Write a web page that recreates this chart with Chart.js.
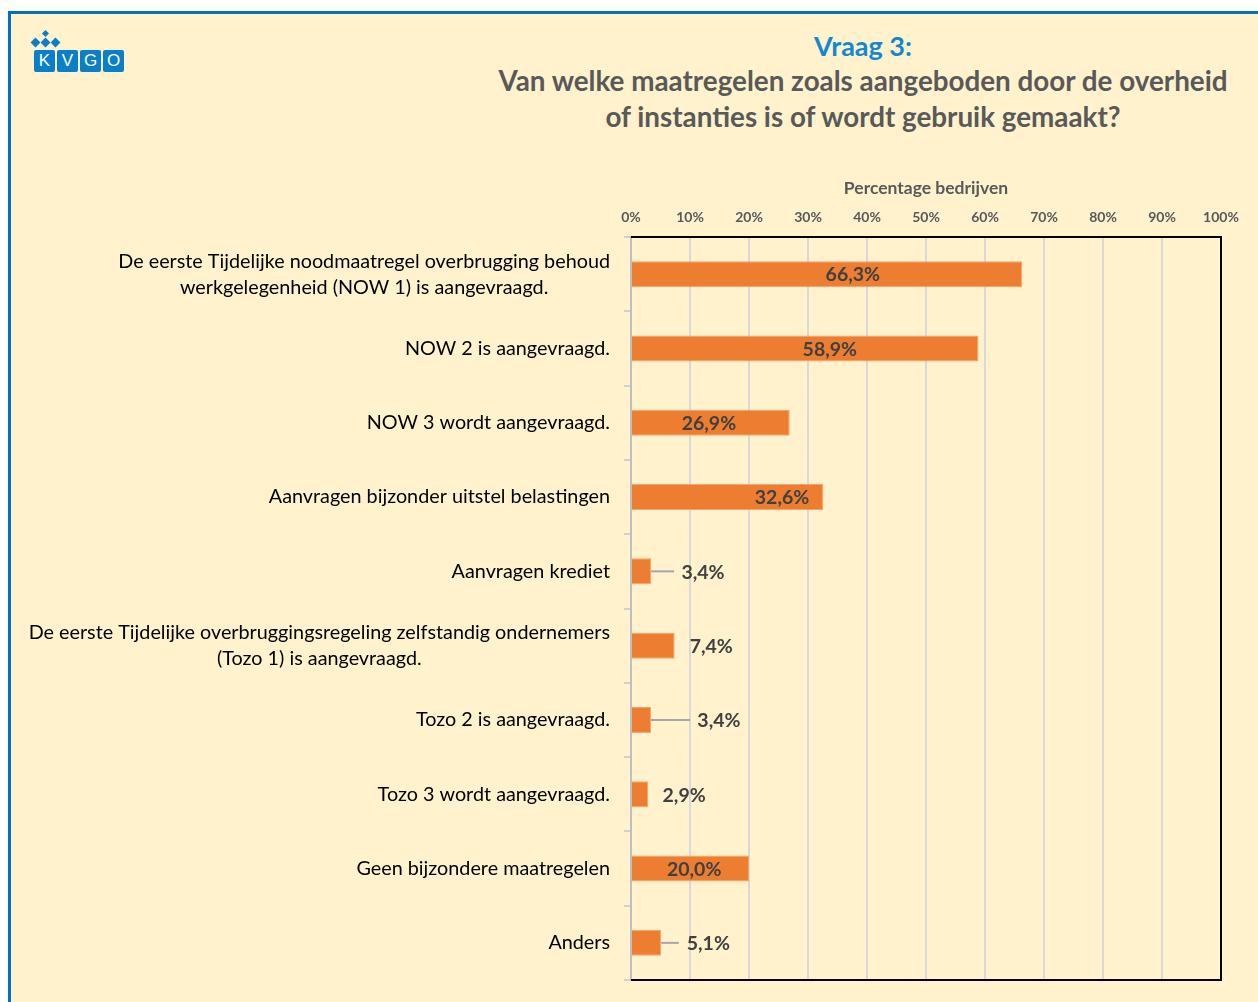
<!DOCTYPE html>
<html>
<head>
<meta charset="utf-8">
<script src="https://cdn.jsdelivr.net/npm/chart.js@4/dist/chart.umd.min.js"></script>
<style>
  html, body { margin: 0; padding: 0; width: 1258px; height: 1002px; overflow: hidden; background: #ffffff; font-family: Lato, "Open Sans", sans-serif; }
  #frame { position: absolute; left: 8px; top: 11px; width: 1300px; height: 1100px; border: 3px solid #0070C0; background: #FFF2CC; box-sizing: border-box; }
  #chartWrap { position: absolute; left: 0; top: 0; width: 1258px; height: 1002px; }
  #t1 { position: absolute; left: 480px; width: 766px; top: 29px; text-align: center; color: #1189D0; font-weight: bold; font-size: 27px; line-height: 34px; }
  #t2 { position: absolute; left: 480px; width: 766px; top: 63px; text-align: center; color: #595959; font-weight: bold; font-size: 27.8px; line-height: 36px; }
  #logo { position: absolute; left: 33px; top: 31px; }
  .dia { position: absolute; width: 7px; height: 7px; background: #0A7FC9; transform: rotate(45deg); }
  .box { position: absolute; top: 19px; width: 21px; height: 22px; background: #0A7FC9; color: #fff; font: 17px "Liberation Sans", Arial, sans-serif; text-align: center; line-height: 22px; border-radius: 2px; }
</style>
</head>
<body>
<div id="frame"></div>
<div id="logo">
  <div class="dia" style="left:10px;top:0px;width:5px;height:5px;"></div>
  <div class="dia" style="left:-1px;top:8px;"></div>
  <div class="dia" style="left:9px;top:8px;"></div>
  <div class="dia" style="left:19px;top:8px;"></div>
  <div class="box" style="left:1px;">K</div>
  <div class="box" style="left:24px;">V</div>
  <div class="box" style="left:47px;">G</div>
  <div class="box" style="left:70px;">O</div>
</div>
<div id="t1">Vraag 3:</div>
<div id="t2">Van welke maatregelen zoals aangeboden door de overheid<br>of instanties is of wordt gebruik gemaakt?</div>
<div id="chartWrap"><canvas id="c" width="1258" height="1002"></canvas></div>
<script>
const categories = [
  ["De eerste Tijdelijke noodmaatregel overbrugging behoud", "werkgelegenheid (NOW 1) is aangevraagd."],
  "NOW 2 is aangevraagd.",
  "NOW 3 wordt aangevraagd.",
  "Aanvragen bijzonder uitstel belastingen",
  "Aanvragen krediet",
  ["De eerste Tijdelijke overbruggingsregeling zelfstandig ondernemers", "(Tozo 1) is aangevraagd."],
  "Tozo 2 is aangevraagd.",
  "Tozo 3 wordt aangevraagd.",
  "Geen bijzondere maatregelen",
  "Anders"
];
const percentages = [66.3, 58.9, 26.9, 32.6, 3.4, 7.4, 3.4, 2.9, 20.0, 5.1];
const xTicks = [0, 10, 20, 30, 40, 50, 60, 70, 80, 90, 100];
const axisTitle = "Percentage bedrijven";

// label anchor positions (in axis units) and leader-line ends, as placed in the original
const labelAt =    [37.6, 33.7, 13.2, 25.6, 12.2, 13.6, 14.9, 9.0, 10.7, 13.1];
const leaderTo =   [null, null, null, null, 7.3, null, 10.0, null, null, 8.1];

function fmt(v) { return v.toFixed(1).replace('.', ',') + '%'; }

const customDraw = {
  id: 'customDraw',
  afterDatasetsDraw(chart) {
    const ctx = chart.ctx;
    const xs = chart.scales.x, ys = chart.scales.y;
    const meta = chart.getDatasetMeta(0);
    ctx.save();
    // leader lines
    ctx.strokeStyle = '#A6A6A6';
    ctx.lineWidth = 2;
    percentages.forEach((v, i) => {
      if (leaderTo[i] == null) return;
      const y = meta.data[i].y;
      ctx.beginPath();
      ctx.moveTo(xs.getPixelForValue(v), y);
      ctx.lineTo(xs.getPixelForValue(leaderTo[i]), y);
      ctx.stroke();
    });
    // data labels
    ctx.fillStyle = '#404040';
    ctx.font = 'bold 19.5px Lato';
    ctx.textAlign = 'center';
    ctx.textBaseline = 'middle';
    percentages.forEach((v, i) => {
      const y = meta.data[i].y + 1;
      ctx.fillText(fmt(v), xs.getPixelForValue(labelAt[i]), y);
    });
    // frame (top/right/bottom)
    const a = chart.chartArea;
    ctx.strokeStyle = '#000000';
    ctx.lineWidth = 2;
    ctx.beginPath();
    ctx.moveTo(a.left, a.top);
    ctx.lineTo(a.right, a.top);
    ctx.lineTo(a.right, a.bottom);
    ctx.lineTo(a.left, a.bottom);
    ctx.stroke();
    // y category labels: block right-aligned, lines centered within block
    ctx.fillStyle = '#000000';
    ctx.font = '19.8px Lato';
    ctx.textBaseline = 'middle';
    ctx.textAlign = 'center';
    const lh = 26;
    const rightEdge = a.left - 21;
    categories.forEach((lab, i) => {
      const lines = Array.isArray(lab) ? lab : [lab];
      const w = Math.max(...lines.map(l => ctx.measureText(l).width));
      const cx = rightEdge - w / 2;
      const yc = ys.getPixelForTick(i);
      const y0 = yc - (lines.length - 1) * lh / 2;
      lines.forEach((l, k) => ctx.fillText(l, cx, y0 + k * lh));
    });
    ctx.restore();
  }
};

new Chart(document.getElementById('c'), {
  type: 'bar',
  data: {
    labels: categories,
    datasets: [{
      data: percentages,
      backgroundColor: '#ED7D31',
      borderColor: '#F4A470',
      borderWidth: 1,
      barPercentage: 0.35,
      categoryPercentage: 1.0
    }]
  },
  options: {
    indexAxis: 'y',
    responsive: false,
    animation: false,
    devicePixelRatio: 1,
    layout: { padding: { top: 170, right: 37, bottom: 22, left: 0 } },
    plugins: { legend: { display: false }, tooltip: { enabled: false }, title: { display: false } },
    scales: {
      x: {
        position: 'top',
        min: 0, max: 100,
        afterBuildTicks(scale) { scale.ticks = xTicks.map(v => ({ value: v })); },
        afterFit(scale) { scale.height = 67; },
        ticks: {
          callback: v => v + '%',
          color: '#595959',
          font: { family: 'Lato', size: 14, weight: 'bold' },
          padding: 11,
          maxRotation: 0
        },
        title: {
          display: true,
          text: axisTitle,
          color: '#595959',
          font: { family: 'Lato', size: 17.5, weight: 'bold' },
          padding: { top: 8, bottom: 4 }
        },
        grid: { color: '#D9D9D9', lineWidth: 2, drawTicks: false },
        border: { display: false }
      },
      y: {
        afterFit(scale) { scale.width = 631; },
        ticks: { display: false },
        grid: { offset: true, drawOnChartArea: false, color: '#D0D0D0', lineWidth: 2, tickLength: 7 },
        border: { display: true, color: '#BFBFBF', width: 2 }
      }
    }
  },
  plugins: [customDraw]
});
</script>
</body>
</html>
